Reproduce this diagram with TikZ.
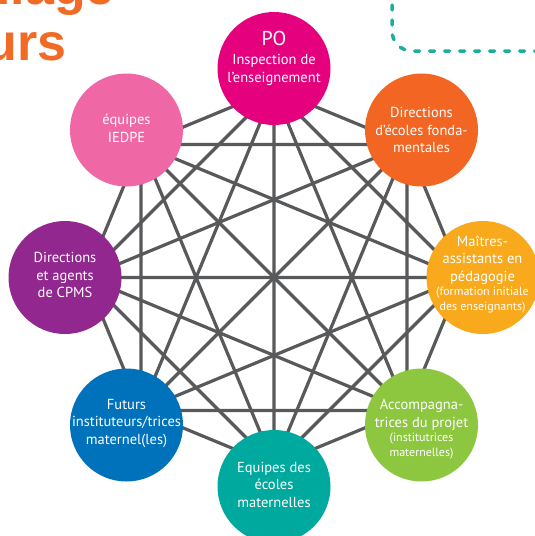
\documentclass[tikz,border=0pt]{standalone}
\usepackage{fontspec}
\setmainfont{PT Sans}
\newfontfamily\headfont{Liberation Sans}
\usepackage{tikz}
\definecolor{poMagenta}{RGB}{229,0,126}
\definecolor{iedpePink}{RGB}{240,103,166}
\definecolor{dirOrange}{RGB}{242,101,34}
\definecolor{maitresYellow}{RGB}{249,170,28}
\definecolor{accGreen}{RGB}{141,198,63}
\definecolor{ecoleTeal}{RGB}{0,169,157}
\definecolor{futursBlue}{RGB}{0,114,188}
\definecolor{cpmsPurple}{RGB}{146,39,143}
\definecolor{linkGray}{RGB}{88,89,91}
\definecolor{titleOrange}{RGB}{242,107,38}
\definecolor{frameTeal}{RGB}{27,174,159}
\newcommand{\petit}{\fontsize{12}{14.5}\selectfont}
\tikzset{
  disc/.style={circle, minimum size=113pt, inner sep=0pt},
  blurb/.style={align=center, text=white, font=\fontsize{14.5}{17.5}\selectfont},
  link/.style={line width=3.2pt, color=linkGray},
  headline/.style={anchor=base east, inner sep=0pt, text=titleOrange, font=\headfont\bfseries\fontsize{52}{52}\selectfont},
  dashframe/.style={line width=3.5pt, color=frameTeal, dash pattern=on 5pt off 10pt, line cap=round, rounded corners=20pt},
}

\begin{document}
\begin{tikzpicture}[x=1pt,y=-1pt]
  \fill [white] (0,0) rectangle (535,536);
  \useasboundingbox (0,0) rectangle (535,536);
  \clip (0,0) rectangle (535,536);
  % title and frame, cut by the page edge
  \node [headline] (title1) at (115,4) {maillage};
  \node [headline] (title2) at (67,60.5) {acteurs};
  \coordinate (f1) at (392,-10);
  \coordinate (f2) at (392,51);
  \coordinate (f3) at (545,51);
  \draw [dashframe] (f1) -- (f2) -- (f3);
  % end points of the links
  \coordinate (p1) at (274,89.5);
  \coordinate (p2) at (407,144.5);
  \coordinate (p3) at (462,277.5);
  \coordinate (p4) at (407,410.5);
  \coordinate (p5) at (274,465.5);
  \coordinate (p6) at (141,410.5);
  \coordinate (p7) at (86,277.5);
  \coordinate (p8) at (141,144.5);
  \draw [link] (p1)--(p2) (p1)--(p3) (p1)--(p4) (p1)--(p5) (p1)--(p6) (p1)--(p7) (p1)--(p8);
  \draw [link] (p2)--(p3) (p2)--(p4) (p2)--(p5) (p2)--(p6) (p2)--(p7) (p2)--(p8);
  \draw [link] (p3)--(p4) (p3)--(p5) (p3)--(p6) (p3)--(p7) (p3)--(p8);
  \draw [link] (p4)--(p5) (p4)--(p6) (p4)--(p7) (p4)--(p8);
  \draw [link] (p5)--(p6) (p5)--(p7) (p5)--(p8);
  \draw [link] (p6)--(p7) (p6)--(p8);
  \draw [link] (p7)--(p8);
  % circles
  \node [disc, fill=poMagenta] (po) at (274,68.5) {};
  \node [disc, fill=dirOrange] (ecolesfond) at (421.5,130) {};
  \node [disc, fill=maitresYellow] (maitres) at (483,277.5) {};
  \node [disc, fill=accGreen] (accomp) at (421.5,425) {};
  \node [disc, fill=ecoleTeal] (ecolesmat) at (274,486.5) {};
  \node [disc, fill=futursBlue] (futurs) at (126.5,425) {};
  \node [disc, fill=cpmsPurple] (cpms) at (65,277.5) {};
  \node [disc, fill=iedpePink] (iedpe) at (126.5,130) {};
  % texts
  \node [blurb] (poText) at (274,58.5) {{\fontsize{20}{20}\selectfont PO}\\[1.8pt]Inspection de\\l’enseignement};
  \node [blurb] (ecolesfondText) at (421.5,130) {Directions\\d’écoles fonda-\\mentales};
  \node [blurb] (maitresText) at (482.5,274.5) {Maîtres-\\assistants en\\pédagogie\\[-3pt]{\petit(formation initiale}\\[-3pt]{\petit des enseignants)}};
  \node [blurb] (accompText) at (421.5,429) {Accompagna-\\trices du projet\\[-3pt]{\petit(institutrices}\\[-3pt]{\petit maternelles)}};
  \node [blurb] (ecolesmatText) at (274,484.5) {Equipes des\\écoles\\maternelles};
  \node [blurb] (futursText) at (126.5,423.5) {Futurs\\instituteurs/trices\\maternel(les)};
  \node [blurb] (cpmsText) at (65,275) {Directions\\et agents\\de CPMS};
  \node [blurb] (iedpeText) at (126.5,128.5) {équipes\\IEDPE};
\end{tikzpicture}
\end{document}
